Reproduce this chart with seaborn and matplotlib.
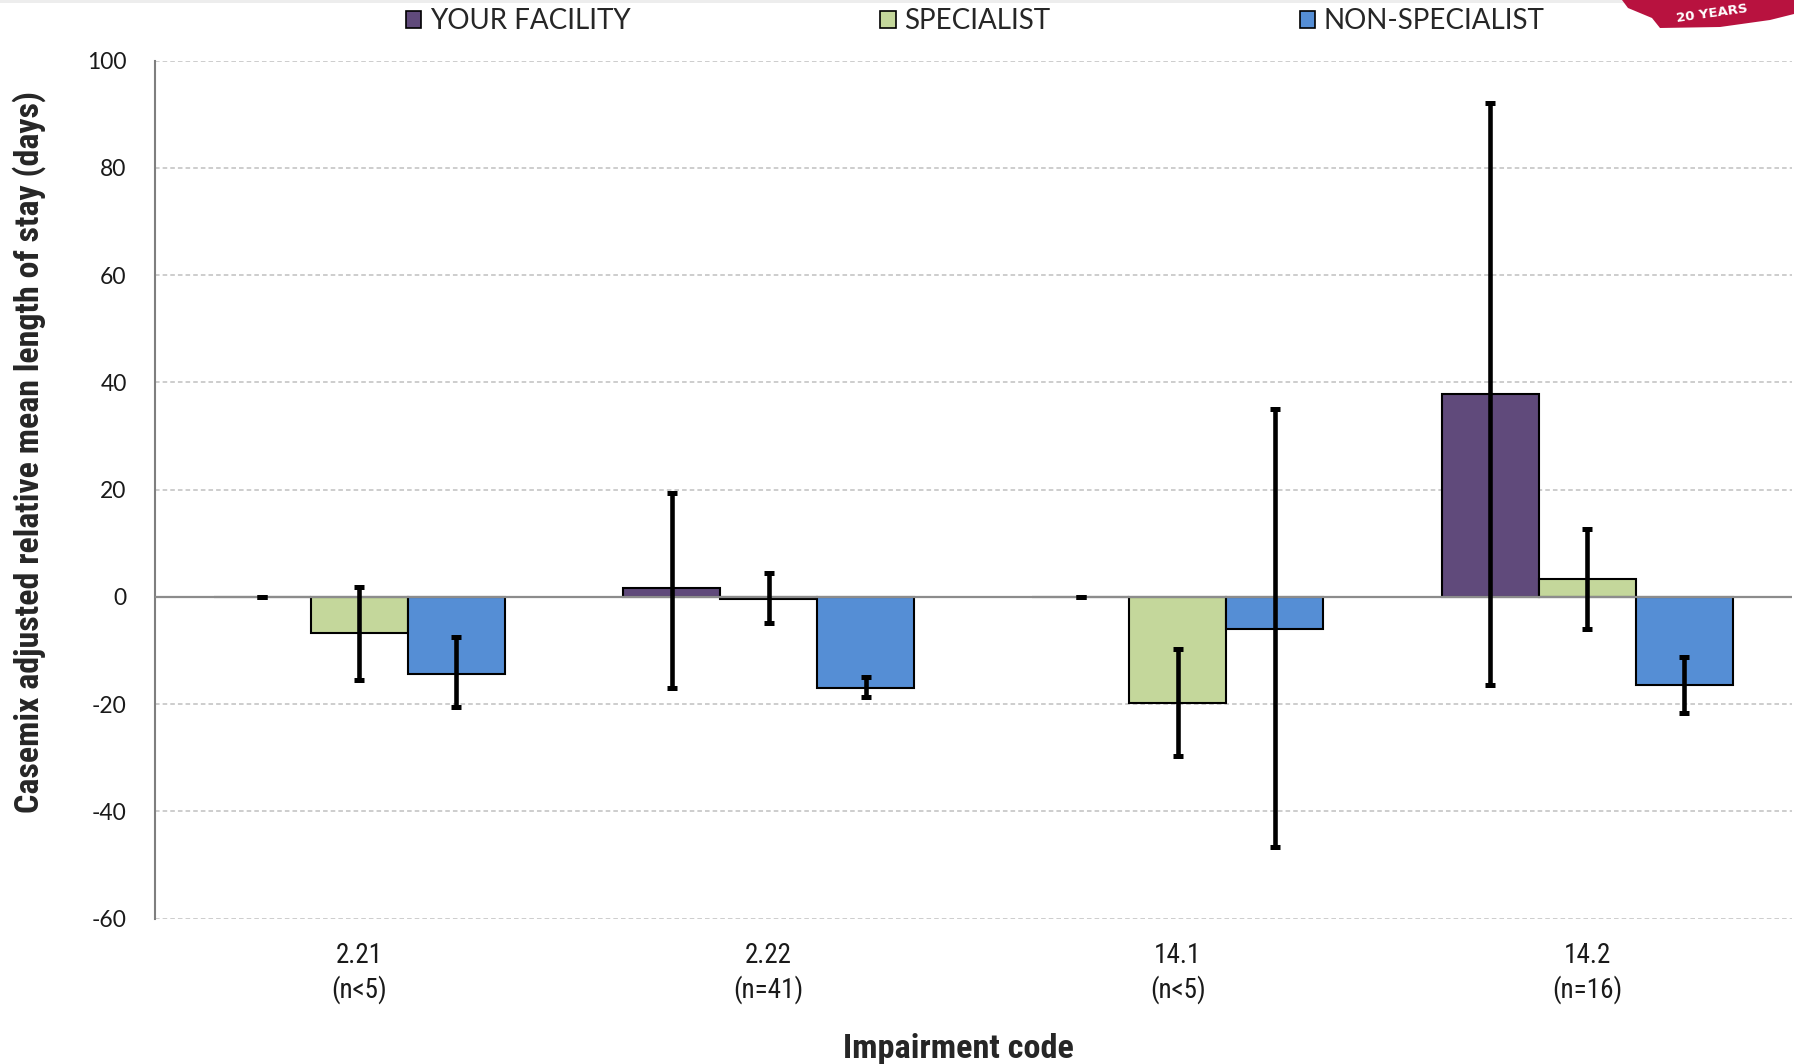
import numpy as np
import pandas as pd
import seaborn as sns
import matplotlib
matplotlib.use("Agg")
import matplotlib.pyplot as plt
from matplotlib import font_manager
from matplotlib.patches import Patch, Polygon, Rectangle

# ---------------- data ----------------
codes = ["2.21\n(n<5)", "2.22\n(n=41)", "14.1\n(n<5)", "14.2\n(n=16)"]
groups = ["YOUR FACILITY", "SPECIALIST", "NON-SPECIALIST"]
facility_vals = [0.0, 1.6, 0.0, 37.8]
specialist_vals = [-6.7, -0.4, -19.8, 3.3]
nonspecialist_vals = [-14.3, -16.9, -6.0, -16.4]
facility_low = [0.0, -16.9, 0.0, -16.4]
facility_high = [0.0, 19.4, 0.0, 92.1]
specialist_low = [-15.4, -4.9, -29.7, -6.0]
specialist_high = [1.8, 4.4, -9.7, 12.6]
nonspecialist_low = [-20.6, -18.7, -46.6, -21.6]
nonspecialist_high = [-7.5, -15.0, 35.0, -11.2]
colors = ["#604A7B", "#C4D79B", "#558ED5"]
yticks = [-60, -40, -20, 0, 20, 40, 60, 80, 100]

vals = [facility_vals, specialist_vals, nonspecialist_vals]
lows = [facility_low, specialist_low, nonspecialist_low]
highs = [facility_high, specialist_high, nonspecialist_high]

df = pd.DataFrame({
    "code": codes * 3,
    "group": [g for g in groups for _ in codes],
    "value": facility_vals + specialist_vals + nonspecialist_vals,
})

# narrow font for axis labels
installed = {f.name for f in font_manager.fontManager.ttflist}
narrow = "DejaVu Sans"
for cand in ["Liberation Sans Narrow", "DejaVu Sans Condensed", "Roboto Condensed",
             "Open Sans Condensed", "Roboto", "Liberation Sans"]:
    if cand in installed:
        narrow = cand
        break

# ---------------- figure ----------------
sns.set_style("white")
plt.rcParams["axes.unicode_minus"] = False
W, H = 1794, 1064
fig = plt.figure(figsize=(W / 100, H / 100), dpi=100)
ax = fig.add_axes([154.5 / W, 1 - 918.7 / H, (1792 - 154.5) / W, (918.7 - 60.6) / H])

sns.barplot(data=df, x="code", y="value", hue="group", order=codes, hue_order=groups,
            palette=colors, width=0.711, edgecolor="black", linewidth=1.5,
            errorbar=None, legend=False, ax=ax, saturation=1)

# error bars
bar_conts = list(ax.containers)
for i, cont in enumerate(bar_conts):
    for j, bar in enumerate(cont.patches):
        xc = bar.get_x() + bar.get_width() / 2
        v = vals[i][j]
        ax.errorbar(xc, v, yerr=[[v - lows[i][j]], [highs[i][j] - v]], fmt="none",
                    ecolor="black", elinewidth=3.3, capsize=3.6, capthick=3.6, zorder=4)

ax.axhline(0, color="#8C8C8C", lw=1.6, zorder=3)

ax.set_ylim(-60, 100)
ax.set_xlim(-0.5, 3.5)
ax.set_yticks(yticks)
ax.set_yticklabels([str(t) for t in yticks])
ax.yaxis.grid(True, color="#C0C0C0", linestyle=(0, (3, 2)), linewidth=1.1)
ax.xaxis.grid(False)
ax.set_axisbelow(True)
for s in ["top", "right", "bottom"]:
    ax.spines[s].set_visible(False)
ax.spines["left"].set_color("#7F7F7F")
ax.spines["left"].set_linewidth(1.5)
ax.tick_params(axis="both", length=0)
ax.tick_params(axis="y", pad=20)
ax.tick_params(axis="x", pad=17)

for lab in ax.get_yticklabels():
    lab.set_fontfamily("Lato")
    lab.set_fontsize(16.5)
    lab.set_color("#1a1a1a")
ax.set_xticks(range(len(codes)))
xt = ax.set_xticklabels(codes, fontfamily=narrow, fontsize=17,
                        linespacing=1.25, color="#1a1a1a")

xl = ax.set_xlabel("Impairment code", fontfamily=narrow, fontweight="bold", fontsize=20)
yl = ax.set_ylabel("Casemix adjusted relative mean length of stay (days)",
                   fontfamily=narrow, fontweight="bold", fontsize=20)
ax.yaxis.set_label_coords(-0.0665, 0.544)
ax.xaxis.set_label_coords(0.491, -0.133)

# fit label sizes to the reference's text extents (pixels)
fig.canvas.draw()
r = fig.canvas.get_renderer()
def fit(t, target, horizontal=True):
    bb = t.get_window_extent(renderer=r)
    cur = bb.width if horizontal else bb.height
    t.set_fontsize(t.get_fontsize() * target / cur)
fit(yl, 721, horizontal=False)
fit(xl, 230)
bb = xt[1].get_window_extent(renderer=r)
scale = 70.0 / bb.width  # "(n=41)" width in reference ≈ 70 px
for t in xt:
    t.set_fontsize(t.get_fontsize() * scale)

# legend
handles = [Patch(facecolor=c, edgecolor="black", linewidth=1.2) for c in colors]
fig.legend(handles, groups, loc="center left", bbox_to_anchor=(406 / W, 1 - 21 / H),
           ncol=3, frameon=False, prop={"family": "Lato", "size": 20},
           handlelength=0.55, handleheight=0.55, handletextpad=0.3,
           columnspacing=9.0, borderpad=0, borderaxespad=0)

# top light band and ribbon logo
fig.patches.append(Rectangle((0, 1 - 3 / H), 1625 / W, 3 / H, transform=fig.transFigure,
                             facecolor="#EDEDED", edgecolor="none"))
pts = [(1622, 0), (1794, 0), (1794, 14), (1770, 20), (1720, 27), (1660, 28),
       (1652, 18), (1628, 8)]
fig.patches.append(Polygon([(x / W, 1 - y / H) for x, y in pts], closed=True,
                           transform=fig.transFigure, facecolor="#B8123F",
                           edgecolor="none"))
fig.text(1712 / W, 1 - 14 / H, "20 YEARS", color="white", fontweight="bold",
         fontsize=9.5, ha="center", va="center", rotation=8, family="DejaVu Sans")

fig.savefig("out.png", dpi=100)
